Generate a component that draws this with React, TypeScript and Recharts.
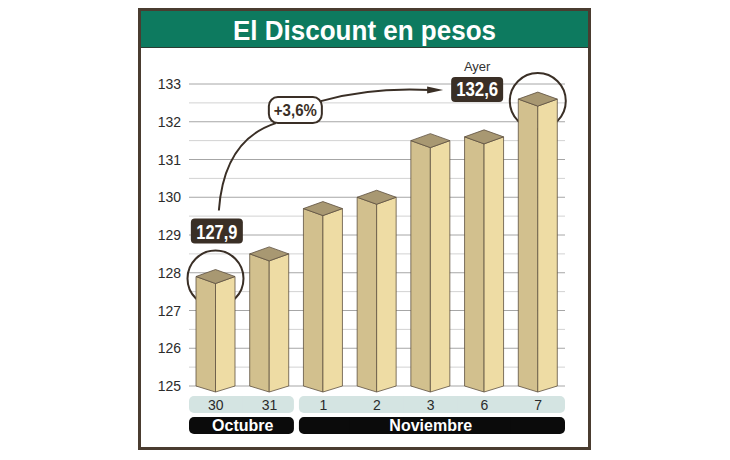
import { BarChart, Bar, XAxis, YAxis, CartesianGrid, ReferenceLine } from 'recharts';

const title = 'El Discount en pesos';
const days = ['30', '31', '1', '2', '3', '6', '7'];
const months = ['Octubre', 'Octubre', 'Noviembre', 'Noviembre', 'Noviembre', 'Noviembre', 'Noviembre'];
const values = [127.9, 128.5, 129.7, 130.0, 131.5, 131.6, 132.6];
const yTicks = [125, 126, 127, 128, 129, 130, 131, 132, 133];
const yHalfTicks = [125.5, 126.5, 127.5, 128.5, 129.5, 130.5, 131.5, 132.5];
const changeLabel = '+3,6%';
const lastLabel = 'Ayer';

const data = days.map((day, i) => ({ day, month: months[i], value: values[i] }));

const NARROW = '"Liberation Sans Narrow", "Arial Narrow", "Liberation Sans", Arial, sans-serif';
const SANS = '"Liberation Sans", Arial, Helvetica, sans-serif';
const DARK = '#3a2f26';

const fmt = (v: number) => v.toFixed(1).replace('.', ',');

// rectangle with rounded corners only on the chosen side(s)
function segPath(x0: number, x1: number, y: number, h: number, rl: number, rr: number) {
  return `M${x0 + rl},${y} H${x1 - rr} A${rr},${rr} 0 0 1 ${x1},${y + rr} V${y + h - rr} A${rr},${rr} 0 0 1 ${x1 - rr},${y + h} H${x0 + rl} A${rl},${rl} 0 0 1 ${x0},${y + h - rl} V${y + rl} A${rl},${rl} 0 0 1 ${x0 + rl},${y} Z`;
}

const Box3D = (props: any) => {
  const { x, y, width, height, index } = props;
  if (x == null || width == null) return null;
  const d = 7;
  const cx = x + width / 2;
  const xr = x + width;
  const b = y + height;
  const ring = index === 0 || index === values.length - 1;
  return (
    <g>
      {ring && <circle cx={cx} cy={y + 2} r={28} fill="none" stroke={DARK} strokeWidth={2} />}
      <polygon points={`${x},${y} ${cx},${y + d} ${cx},${b + 6} ${x},${b}`} fill="#d2c08e" stroke="#5e5040" strokeWidth={0.8} />
      <polygon points={`${cx},${y + d} ${xr},${y} ${xr},${b} ${cx},${b + 6}`} fill="#eedca4" stroke="#5e5040" strokeWidth={0.8} />
      <polygon points={`${x},${y} ${cx},${y - d} ${xr},${y} ${cx},${y + d}`} fill="#a89872" stroke="#5e5040" strokeWidth={0.8} />
    </g>
  );
};

const YTick = (p: any) => (
  <text x={p.x} y={p.y} dy={5} textAnchor="end" fontSize={14} fill="#2b2b2b" fontFamily={NARROW}>
    {p.payload.value}
  </text>
);

const DayTick = (p: any) => {
  const { x, y, payload } = p;
  const i = days.indexOf(String(payload.value));
  const bw = payload.offset ? payload.offset * 2 : 53.7;
  const first = i === 0 || months[i] !== months[i - 1];
  const last = i === months.length - 1 || months[i] !== months[i + 1];
  const x0 = x - bw / 2 + (first && i > 0 ? 2.5 : 0) - (first ? 0 : 0.5);
  const x1 = x + bw / 2 - (last && i < months.length - 1 ? 2.5 : 0) + (last ? 0 : 0.5);
  const r = 5;
  const count = months.filter((m) => m === months[i]).length;
  return (
    <g>
      <path d={segPath(x0, x1, y + 10, 17, first ? r : 0, last ? r : 0)} fill="#d4e4e2" />
      <text x={x} y={y + 23.5} textAnchor="middle" fontSize={14} fill="#2b2b2b" fontFamily={NARROW}>
        {days[i]}
      </text>
      <path d={segPath(x0, x1, y + 31, 17, first ? r : 0, last ? r : 0)} fill="#0b0b0b" />
      {/* month name drawn by the group's last tick so later segments don't cover it */}
      {last && (
        <text x={x - ((count - 1) * bw) / 2} y={y + 45} textAnchor="middle" fontSize={16} fontWeight="bold" fill="#fff" fontFamily={SANS}>
          {months[i]}
        </text>
      )}
    </g>
  );
};

const Callouts = (p: any) => {
  const { x1, y1, x2, y2 } = p;
  if (x1 == null || x2 == null) return null;
  return (
    <g>
      <path d={`M${x1 + 3},${y1 - 66} Q${x1 + 8},${y2 + 41} ${x1 + 60},${y2 + 24}`} fill="none" stroke={DARK} strokeWidth={2} />
      <path d={`M${x1 + 105},${y2 + 2} Q${x1 + 155},${y2 - 12} ${x2 - 108},${y2 - 9}`} fill="none" stroke={DARK} strokeWidth={2} />
      <polygon points={`${x2 - 95},${y2 - 9} ${x2 - 111},${y2 - 12.5} ${x2 - 111},${y2 - 5.5}`} fill={DARK} />
      <rect x={x1 + 53} y={y2 - 2} width={53} height={26} rx={9} fill="#fff" stroke={DARK} strokeWidth={2} />
      <text x={x1 + 79.5} y={y2 + 16.5} textAnchor="middle" fontSize={16} fontWeight="bold" fill={DARK} fontFamily={NARROW} textLength={43} lengthAdjust="spacingAndGlyphs">
        {changeLabel}
      </text>
      <rect x={x1 - 25} y={y1 - 58} width={52} height={25} rx={4} fill={DARK} />
      <text x={x1 + 1} y={y1 - 38} textAnchor="middle" fontSize={20} fontWeight="bold" fill="#fff" fontFamily={NARROW} textLength={41} lengthAdjust="spacingAndGlyphs">
        {fmt(values[0])}
      </text>
      <rect x={x2 - 87} y={y2 - 22} width={52} height={25} rx={4} fill={DARK} />
      <text x={x2 - 61} y={y2 - 3.5} textAnchor="middle" fontSize={20} fontWeight="bold" fill="#fff" fontFamily={NARROW} textLength={42} lengthAdjust="spacingAndGlyphs">
        {fmt(values[values.length - 1])}
      </text>
      <text x={x2 - 61} y={y2 - 28} textAnchor="middle" fontSize={13} fill="#333" fontFamily={NARROW}>
        {lastLabel}
      </text>
    </g>
  );
};

export default function App() {
  return (
    <div style={{ position: 'absolute', left: 0, top: 0, width: 730, height: 460, background: '#fff' }}>
      <div
        style={{
          position: 'absolute',
          left: 138,
          top: 8,
          width: 453,
          height: 442,
          boxSizing: 'border-box',
          border: '3px solid #4a3c30',
          background: '#fff',
        }}
      >
        <svg width={447} height={37} style={{ display: 'block' }}>
          <rect width={447} height={36} fill="#0d7a5f" />
          <rect y={36} width={447} height={1} fill="#2b3d33" />
          <text x={223.5} y={29} textAnchor="middle" fontSize={28} fontWeight="bold" fill="#fff" fontFamily={SANS} textLength={263} lengthAdjust="spacingAndGlyphs">
            {title}
          </text>
        </svg>
        <div style={{ position: 'absolute', left: 0, top: 37 }}>
          <BarChart width={447} height={399} data={data} margin={{ top: 36, right: 23, bottom: 11, left: 0 }}>
            <CartesianGrid vertical={false} horizontalValues={yHalfTicks} stroke="#d2d2d2" />
            <CartesianGrid vertical={false} horizontalValues={yTicks} stroke="#a6a6a6" />
            <YAxis
              type="number"
              domain={[125, 133]}
              ticks={yTicks}
              interval={0}
              width={48}
              axisLine={false}
              tickLine={false}
              tick={YTick}
            />
            <XAxis
              dataKey="day"
              interval={0}
              height={50}
              axisLine={false}
              tickLine={false}
              tickSize={0}
              tickMargin={0}
              tick={DayTick}
            />
            <Bar dataKey="value" barSize={39} shape={Box3D} isAnimationActive={false} />
            <ReferenceLine
              segment={[
                { x: days[0], y: values[0] },
                { x: days[days.length - 1], y: values[values.length - 1] },
              ]}
              shape={Callouts}
            />
          </BarChart>
        </div>
      </div>
    </div>
  );
}
